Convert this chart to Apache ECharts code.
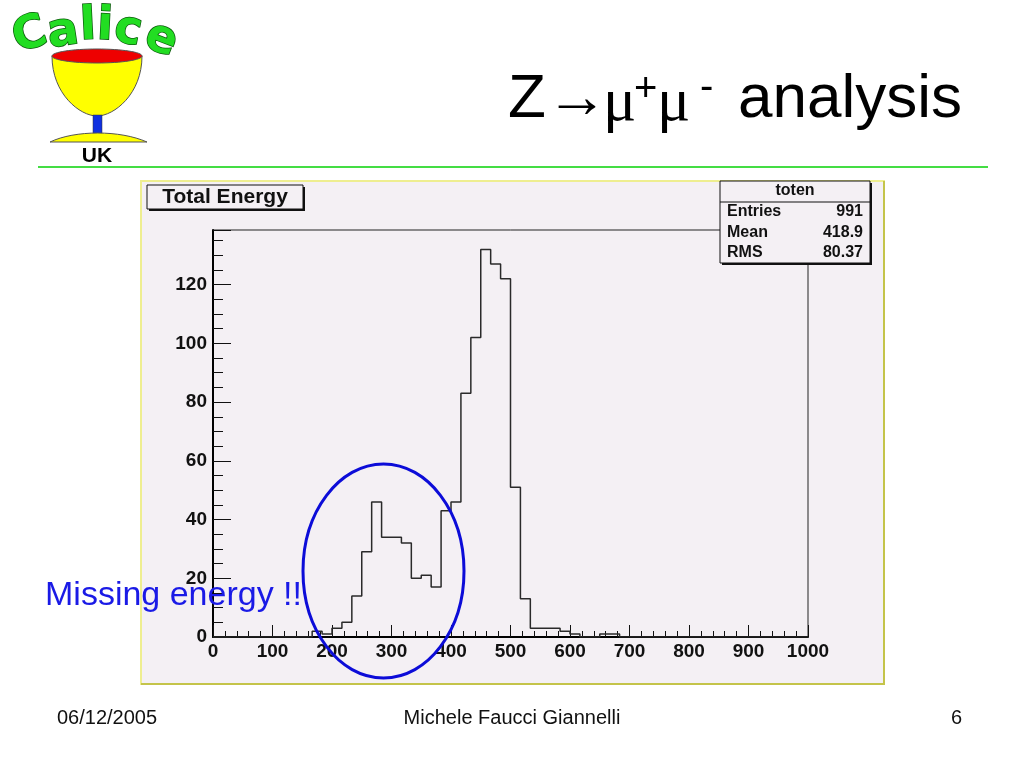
<!DOCTYPE html>
<html><head><meta charset="utf-8">
<script src="https://cdn.jsdelivr.net/npm/echarts@6/dist/echarts.min.js"></script>
<style>html,body{margin:0;padding:0;background:#fff}#c{width:1024px;height:768px}</style>
</head><body><div id="c"></div>
<script>
// ---- data ----
const xRange = [0, 1000];
const binCounts = [0,0,0,0,0,0,0,0,0,0, 2,1,3,5,14,29,46,34,34,32, 20,21,17,43,46,83,102,132,127,122, 51,13,3,3,3,2,1,0,0,1, 1,0,0,0,0,0,0,0,0,0, 0,0,0,0,0,0,0,0,0,0];
const yMax = 138.6;
const histTitle = 'Total Energy';
const histName = 'toten';
const statsLabels = ['Entries', 'Mean', 'RMS'];
const statsValues = ['991', '418.9', '80.37'];
const annotation = 'Missing energy !!';
const footerLeft = '06/12/2005';
const footerCenter = 'Michele Faucci Giannelli';
const footerRight = '6';

// ---- build step outline ----
const binW = (xRange[1] - xRange[0]) / binCounts.length;
const stepData = binCounts.map((c, i) => [xRange[0] + i * binW, c]);
stepData.push([xRange[1], binCounts[binCounts.length - 1]]);

const SANS = 'Liberation Sans, Arial, sans-serif';
const SERIF = 'Liberation Serif, Times New Roman, serif';

function bez(p0, p1, p2, p3, n) {
  const pts = [];
  for (let k = 0; k <= n; k++) {
    const t = k / n, u = 1 - t;
    pts.push([u*u*u*p0[0] + 3*u*u*t*p1[0] + 3*u*t*t*p2[0] + t*t*t*p3[0],
              u*u*u*p0[1] + 3*u*u*t*p1[1] + 3*u*t*t*p2[1] + t*t*t*p3[1]]);
  }
  return pts;
}

const chart = echarts.init(document.getElementById('c'), null, {renderer: 'canvas'});

const graphics = [];
// slide panel background
graphics.push({type: 'rect', z: -10, shape: {x: 141, y: 181, width: 743, height: 503},
  style: {fill: '#f4f0f4', stroke: '#eeee90', lineWidth: 2}});
graphics.push({type: 'polyline', z: -9, shape: {points: [[884, 181], [884, 684], [141, 684]]},
  style: {stroke: '#c4c44a', lineWidth: 2, fill: null}});

// title box
graphics.push({type: 'rect', z: 50, shape: {x: 149, y: 187, width: 156, height: 24}, style: {fill: '#111'}});
graphics.push({type: 'rect', z: 51, shape: {x: 147, y: 185, width: 156, height: 24},
  style: {fill: '#f4f0f4', stroke: '#111', lineWidth: 1}});
graphics.push({type: 'text', z: 52, x: 225, y: 197, style: {text: histTitle, font: 'bold 21px ' + SANS,
  fill: '#111', align: 'center', verticalAlign: 'middle'}});

// stats box
graphics.push({type: 'rect', z: 50, shape: {x: 722, y: 183, width: 150, height: 82}, style: {fill: '#111'}});
graphics.push({type: 'rect', z: 51, shape: {x: 720, y: 181, width: 150, height: 82},
  style: {fill: '#f4f0f4', stroke: '#111', lineWidth: 1}});
graphics.push({type: 'line', z: 52, shape: {x1: 720, y1: 202, x2: 870, y2: 202}, style: {stroke: '#111', lineWidth: 1}});
graphics.push({type: 'text', z: 52, x: 795, y: 191, style: {text: histName, font: 'bold 16px ' + SANS,
  fill: '#111', align: 'center', verticalAlign: 'middle'}});
statsLabels.forEach((l, i) => {
  graphics.push({type: 'text', z: 52, x: 727, y: 212 + i * 20.5, style: {text: l, font: 'bold 16px ' + SANS,
    fill: '#111', align: 'left', verticalAlign: 'middle'}});
  graphics.push({type: 'text', z: 52, x: 863, y: 212 + i * 20.5, style: {text: statsValues[i], font: 'bold 16px ' + SANS,
    fill: '#111', align: 'right', verticalAlign: 'middle'}});
});

// ellipse & annotation
graphics.push({type: 'ellipse', z: 60, shape: {cx: 383.5, cy: 571, rx: 80.5, ry: 107},
  style: {fill: null, stroke: '#0c0cd8', lineWidth: 3}});
graphics.push({type: 'text', z: 61, x: 45, y: 596, style: {text: annotation, font: '34px ' + SANS,
  fill: '#1a1ae6', align: 'left', verticalAlign: 'middle'}});

// slide title
const tBase = 100;
graphics.push({type: 'text', z: 10, x: 508, y: tBase, style: {text: 'Z\u2192', font: '62px ' + SANS, fill: '#000', verticalAlign: 'middle'}});
graphics.push({type: 'text', z: 10, x: 603, y: tBase + 4, style: {text: '\u03bc', font: '62px ' + SERIF, fill: '#000', verticalAlign: 'middle'}});
graphics.push({type: 'text', z: 10, x: 634, y: tBase - 10, style: {text: '+', font: '40px ' + SANS, fill: '#000', verticalAlign: 'middle'}});
graphics.push({type: 'text', z: 10, x: 657, y: tBase + 4, style: {text: '\u03bc', font: '62px ' + SERIF, fill: '#000', verticalAlign: 'middle'}});
graphics.push({type: 'text', z: 10, x: 700, y: tBase - 12, style: {text: '-', font: '40px ' + SANS, fill: '#000', verticalAlign: 'middle'}});
graphics.push({type: 'text', z: 10, x: 738, y: tBase, style: {text: 'analysis', font: '62px ' + SANS, fill: '#000', verticalAlign: 'middle'}});

// green rule
graphics.push({type: 'line', z: 10, shape: {x1: 38, y1: 167, x2: 988, y2: 167}, style: {stroke: '#44dd44', lineWidth: 2}});

// logo
const letters = [['C', 30, 36, 0.30], ['a', 63, 33, 0.15], ['l', 88, 27, 0.05], ['i', 105, 27, -0.05], ['c', 128, 31, -0.2], ['e', 161, 40, -0.36]];
letters.forEach(([ch, x, y, r]) => {
  graphics.push({type: 'text', z: 12, x: x, y: y, rotation: r, style: {text: ch, font: 'bold 46px DejaVu Sans, sans-serif',
    fill: '#22dd22', stroke: '#0c5a0c', lineWidth: 1.5, align: 'center', verticalAlign: 'middle'}});
});
const bowl = bez([52, 56], [52, 94], [80, 116], [97, 116], 16).concat(bez([97, 116], [114, 116], [142, 94], [142, 56], 16).slice(1));
graphics.push({type: 'polygon', z: 10, shape: {points: bowl}, style: {fill: '#ffff00', stroke: '#555', lineWidth: 1}});
graphics.push({type: 'ellipse', z: 11, shape: {cx: 97, cy: 56, rx: 45, ry: 7}, style: {fill: '#ee0000', stroke: '#555', lineWidth: 1}});
graphics.push({type: 'rect', z: 10, shape: {x: 93, y: 115, width: 9, height: 20}, style: {fill: '#1030e0', stroke: '#333', lineWidth: 0.5}});
const basePts = bez([50, 142], [75, 130], [120, 130], [147, 142], 16);
graphics.push({type: 'polygon', z: 11, shape: {points: basePts}, style: {fill: '#ffff00', stroke: '#555', lineWidth: 1}});
graphics.push({type: 'text', z: 10, x: 97, y: 156, style: {text: 'UK', font: 'bold 21px ' + SANS, fill: '#000', align: 'center', verticalAlign: 'middle'}});

// footer
graphics.push({type: 'text', z: 10, x: 57, y: 718, style: {text: footerLeft, font: '20px ' + SANS, fill: '#111', verticalAlign: 'middle'}});
graphics.push({type: 'text', z: 10, x: 512, y: 718, style: {text: footerCenter, font: '20px ' + SANS, fill: '#111', align: 'center', verticalAlign: 'middle'}});
graphics.push({type: 'text', z: 10, x: 962, y: 718, style: {text: footerRight, font: '20px ' + SANS, fill: '#111', align: 'right', verticalAlign: 'middle'}});

const option = {
  animation: false,
  backgroundColor: '#ffffff',
  grid: {left: 213, right: 216, top: 230, bottom: 131, show: true, borderColor: '#222', borderWidth: 1, backgroundColor: 'transparent'},
  xAxis: {
    type: 'value', min: xRange[0], max: xRange[1], interval: 100,
    axisLine: {show: true, onZero: false, lineStyle: {color: '#000', width: 2}},
    axisTick: {show: true, inside: true, length: 12, lineStyle: {color: '#111', width: 1}},
    minorTick: {show: true, splitNumber: 5, length: 6, lineStyle: {color: '#111', width: 1}},
    splitLine: {show: false},
    axisLabel: {show: true, margin: 5, color: '#111', fontFamily: SANS, fontWeight: 'bold', fontSize: 19,
      formatter: v => String(v)}
  },
  yAxis: {
    type: 'value', min: 0, max: yMax, interval: 20,
    axisLine: {show: true, onZero: false, lineStyle: {color: '#000', width: 2}},
    axisTick: {show: true, inside: true, length: 18, lineStyle: {color: '#111', width: 1}},
    minorTick: {show: true, splitNumber: 4, length: 10, lineStyle: {color: '#111', width: 1}},
    splitLine: {show: false},
    axisLabel: {show: true, margin: 6, color: '#111', fontFamily: SANS, fontWeight: 'bold', fontSize: 19,
      showMaxLabel: false, formatter: v => (Math.abs(v % 20) < 1e-6 ? String(v) : '')}
  },
  series: [{
    type: 'line', step: 'end', data: stepData, symbol: 'none', silent: true,
    lineStyle: {color: '#2a2a2a', width: 1.5}, z: 3
  }],
  graphic: {elements: graphics}
};
chart.setOption(option);
</script>
</body></html>
